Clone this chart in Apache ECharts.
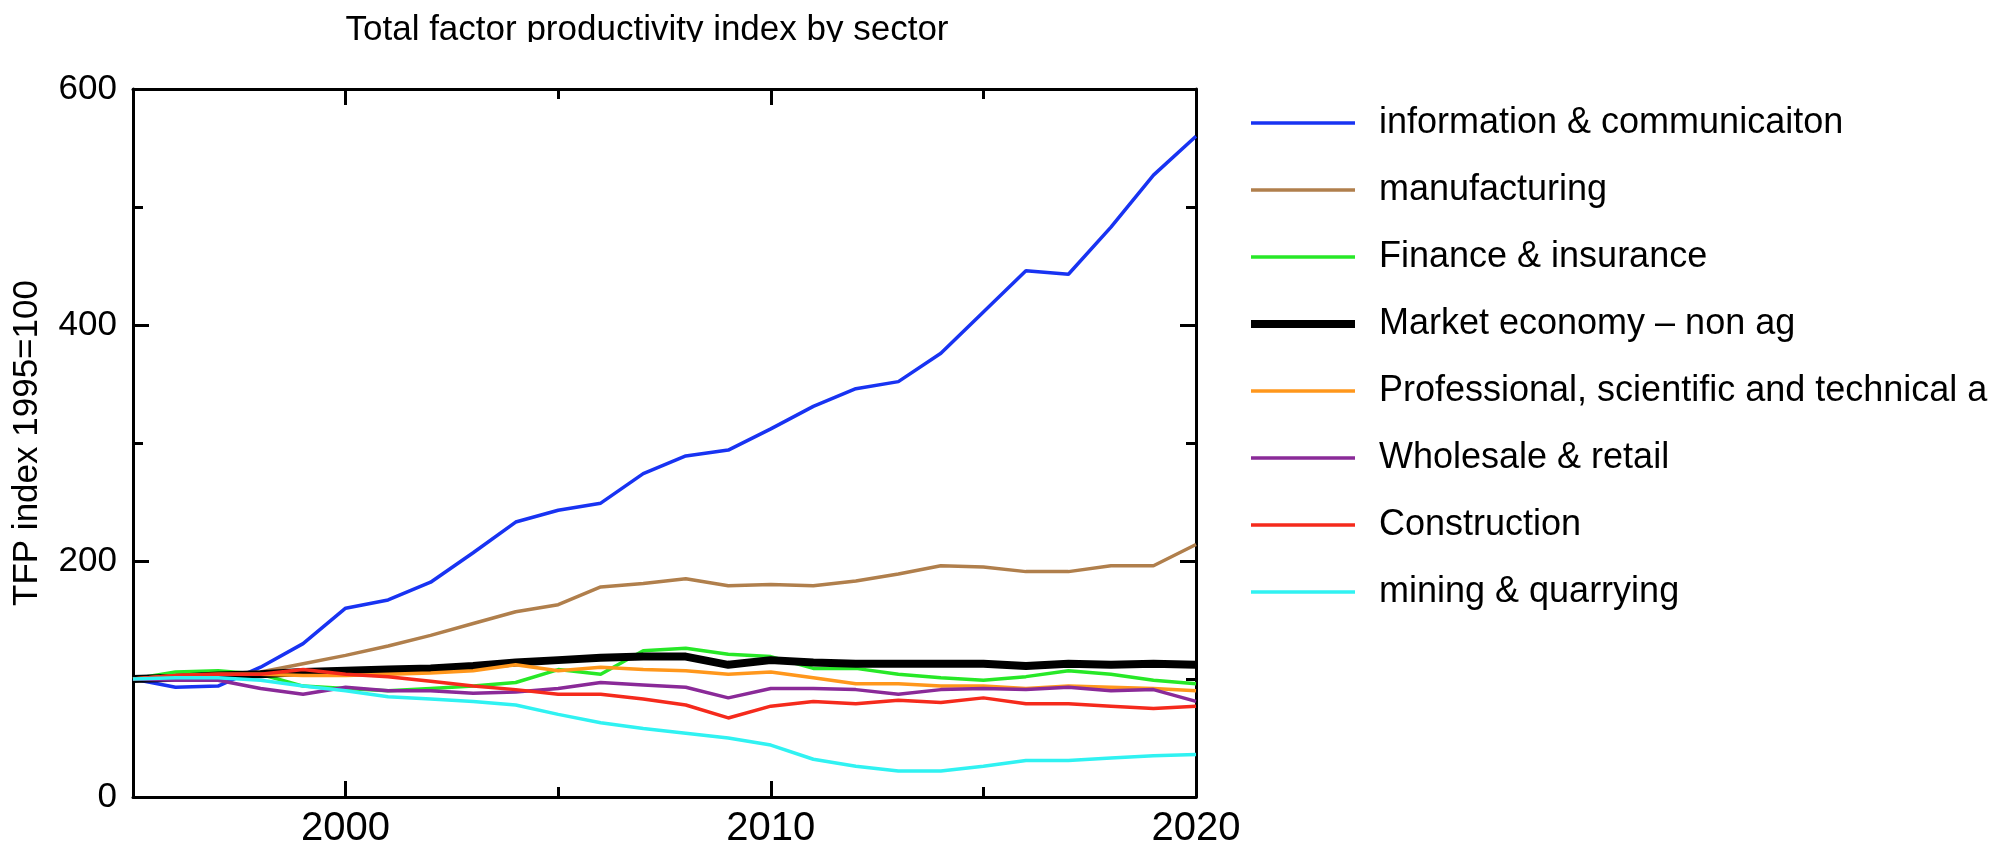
<!DOCTYPE html>
<html>
<head>
<meta charset="utf-8">
<script src="https://cdn.jsdelivr.net/npm/echarts@6/dist/echarts.min.js"></script>
<style>html,body{margin:0;padding:0;background:#fff;}#c{width:2000px;height:854px;}</style>
</head>
<body>
<div id="c"></div>
<script>
const years = [1995,1996,1997,1998,1999,2000,2001,2002,2003,2004,2005,2006,2007,2008,2009,2010,2011,2012,2013,2014,2015,2016,2017,2018,2019,2020];
const infoComm     = [100, 93, 94,110,130,160,167,182,207,233,243,249,274,289,294,312,331,346,352,376,411,446,443,483,527,560];
const manufacturing= [100,103,104,106,113,120,128,137,147,157,163,178,181,185,179,180,179,183,189,196,195,191,191,196,196,214];
const finance      = [100,106,107,104, 94, 92, 90, 92, 94, 97,108,104,124,126,121,119,109,109,104,101, 99,102,107,104, 99, 96];
const marketEcon   = [100,101,103,104,106,107,108,109,111,114,116,118,119,119,112,116,114,113,113,113,113,111,113,112,113,112];
const professional = [100,103,104,104,103,103,104,105,107,112,107,110,108,107,104,106,101, 96, 96, 94, 94, 92, 94, 93, 92, 90];
const wholesale    = [100, 99, 99, 92, 87, 93, 90, 90, 88, 89, 92, 97, 95, 93, 84, 92, 92, 91, 87, 91, 92, 91, 93, 90, 91, 81];
const construction = [100,103,104,104,108,104,102, 98, 94, 91, 87, 87, 83, 78, 67, 77, 81, 79, 82, 80, 84, 79, 79, 77, 75, 77];
const mining       = [100,101,101, 99, 94, 90, 85, 83, 81, 78, 70, 63, 58, 54, 50, 44, 32, 26, 22, 22, 26, 31, 31, 33, 35, 36];

const seriesNames = ['information & communicaiton','manufacturing','Finance & insurance','Market economy \u2013 non ag','Professional, scientific and technical a','Wholesale & retail','Construction','mining & quarrying'];
const seriesValues = [infoComm, manufacturing, finance, marketEcon, professional, wholesale, construction, mining];
const seriesColors = ['#1833f2','#b07f4c','#27e827','#000000','#ff971c','#8a2a98','#f52a1c','#30f2f2'];
const seriesWidths = [3.5,3.5,3.5,8,3.5,3.5,3.5,3.5];

const xMajor = [2000,2010,2020];
const xMinor = [2005,2015];
const yMajor = [0,200,400,600];
const yMinor = [100,300,500];

const FONT = '"Liberation Sans", Arial, Helvetica, sans-serif';
const chart = echarts.init(document.getElementById('c'));

function xAx(pos, ticks, len, labels, line) {
  return {
    type:'value', position:pos, min:1995, max:2020, interval:5,
    axisLine:{show:line, onZero:false, lineStyle:{color:'#000', width:3}},
    axisTick:{show:true, inside:true, length:len, customValues:ticks, lineStyle:{color:'#000', width:3}},
    axisLabel:{show:labels, customValues:xMajor, formatter:(v)=>String(v), color:'#000', fontSize:40, fontFamily:FONT, margin:12},
    splitLine:{show:false}
  };
}
function yAx(pos, ticks, len, labels, line, name) {
  return {
    type:'value', position:pos, min:0, max:600, interval:100,
    name: name || '', nameLocation:'middle', nameGap:88,
    nameTextStyle:{color:'#000', fontSize:35, fontFamily:FONT},
    axisLine:{show:line, onZero:false, lineStyle:{color:'#000', width:3}},
    axisTick:{show:true, inside:true, length:len, customValues:ticks, lineStyle:{color:'#000', width:3}},
    axisLabel:{show:labels, customValues:yMajor, formatter:(v)=>String(v), color:'#000', fontSize:35, fontFamily:FONT, margin:16},
    splitLine:{show:false}
  };
}

const option = {
  backgroundColor:'#fff',
  animation:false,
  title:{text:'Total factor productivity index by sector', left:642, top:8, textAlign:'center',
    textStyle:{color:'#000', fontSize:35, fontWeight:'normal', fontFamily:FONT}},
  graphic:[{type:'rect', left:300, top:42, shape:{width:700, height:16}, style:{fill:'#fff'}, z:100}],
  grid:{left:133, right:804, top:89, bottom:57, containLabel:false, outerBoundsMode:'none'},
  xAxis:[
    xAx('bottom', xMajor, 16, true, true),
    xAx('bottom', xMinor, 10, false, false),
    xAx('top', xMajor, 16, false, true),
    xAx('top', xMinor, 10, false, false)
  ],
  yAxis:[
    yAx('left', [200,400], 16, true, true, 'TFP index 1995=100'),
    yAx('left', yMinor, 10, false, false),
    yAx('right', [200,400], 16, false, true),
    yAx('right', yMinor, 10, false, false)
  ],
  legend:{
    orient:'vertical', left:1242, top:100, itemWidth:104, itemHeight:14, itemGap:31,
    data: seriesNames.map((n,i)=>({name:n, itemStyle:{opacity:0}, lineStyle:{color:seriesColors[i], width:seriesWidths[i]}})),
    itemStyle:{opacity:0},
    textStyle:{color:'#000', fontSize:36, fontFamily:FONT, padding:[0,0,0,19]}
  },
  series: seriesNames.map((n,i)=>({
    name:n, type:'line', xAxisIndex:0, yAxisIndex:0,
    data: years.map((y,k)=>[y, seriesValues[i][k]]),
    showSymbol:false, symbol:'none',
    lineStyle:{color:seriesColors[i], width:seriesWidths[i]},
    itemStyle:{color:seriesColors[i]}
  }))
};
chart.setOption(option);
</script>
</body>
</html>
